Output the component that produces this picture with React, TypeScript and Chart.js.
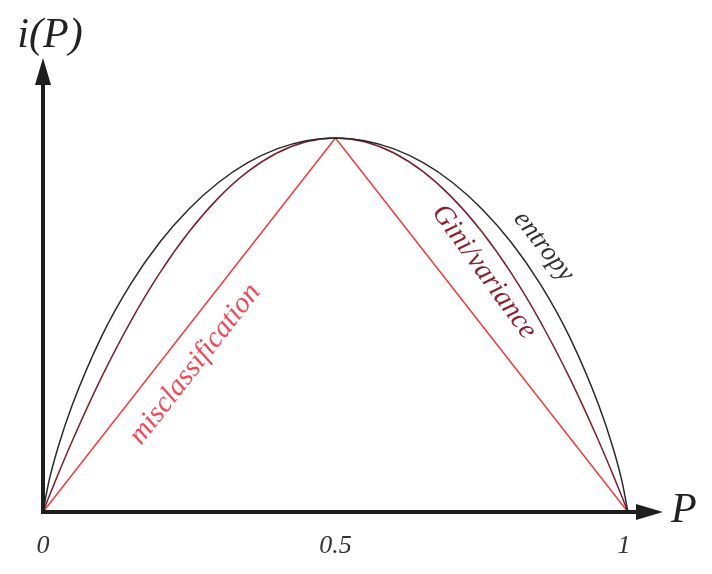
import React, { useEffect, useRef } from "react";
import { Chart, registerables } from "chart.js";

Chart.register(...registerables);

const P_VALUES = [0, 0.01, 0.025, 0.05, 0.1, 0.15, 0.2, 0.25, 0.3, 0.35, 0.4, 0.45, 0.5, 0.55, 0.6, 0.65, 0.7, 0.75, 0.8, 0.85, 0.9, 0.95, 0.975, 0.99, 1];
const ENTROPY = [0, 0.081, 0.169, 0.286, 0.469, 0.61, 0.722, 0.811, 0.881, 0.934, 0.971, 0.993, 1, 0.993, 0.971, 0.934, 0.881, 0.811, 0.722, 0.61, 0.469, 0.286, 0.169, 0.081, 0];
const GINI = [0, 0.04, 0.098, 0.19, 0.36, 0.51, 0.64, 0.75, 0.84, 0.91, 0.96, 0.99, 1, 0.99, 0.96, 0.91, 0.84, 0.75, 0.64, 0.51, 0.36, 0.19, 0.098, 0.04, 0];
const MISCLASS_P = [0, 0.5, 1];
const MISCLASS = [0, 1, 0];
const TICK_VALUES = [0, 0.5, 1];
const TICK_LABELS = ["0", "0.5", "1"];
const X_LABEL = "P";
const Y_LABEL = "i(P)";
const CURVE_LABELS = ["misclassification", "Gini/variance", "entropy"];

const X_MAX = 1.06;
const Y_MAX = 1.214;

const SERIF = "'Liberation Serif', 'DejaVu Serif', serif";

const decorPlugin = {
  id: "decor",
  afterDatasetsDraw(chart: any) {
    const ctx = chart.ctx;
    const xs = chart.scales.x;
    const ys = chart.scales.y;
    const x0 = xs.getPixelForValue(0);
    const y0 = ys.getPixelForValue(0);
    const xEnd = xs.getPixelForValue(X_MAX);
    const yEnd = ys.getPixelForValue(Y_MAX);
    ctx.save();
    ctx.strokeStyle = "#1e1e1e";
    ctx.fillStyle = "#1e1e1e";
    ctx.lineWidth = 4;
    ctx.lineCap = "butt";
    // x axis
    ctx.beginPath();
    ctx.moveTo(x0 - 2, y0);
    ctx.lineTo(xEnd - 20, y0);
    ctx.stroke();
    ctx.beginPath();
    ctx.moveTo(xEnd, y0);
    ctx.lineTo(xEnd - 27, y0 - 8);
    ctx.lineTo(xEnd - 27, y0 + 8);
    ctx.closePath();
    ctx.fill();
    // y axis
    ctx.beginPath();
    ctx.moveTo(x0, y0 + 2);
    ctx.lineTo(x0, yEnd + 20);
    ctx.stroke();
    ctx.beginPath();
    ctx.moveTo(x0, yEnd);
    ctx.lineTo(x0 - 8, yEnd + 27);
    ctx.lineTo(x0 + 8, yEnd + 27);
    ctx.closePath();
    ctx.fill();

    // tick labels
    ctx.fillStyle = "#333";
    ctx.font = `italic 26px ${SERIF}`;
    ctx.textAlign = "center";
    ctx.textBaseline = "middle";
    TICK_VALUES.forEach((v, i) => {
      ctx.fillText(TICK_LABELS[i], xs.getPixelForValue(v) - (i === 2 ? 4 : 0), y0 + 34);
    });

    // axis titles
    ctx.fillStyle = "#222";
    ctx.font = `italic 42px ${SERIF}`;
    ctx.textAlign = "left";
    ctx.fillText(X_LABEL, xEnd + 8, y0 - 1);
    ctx.textAlign = "center";
    ctx.font = `italic 42px ${SERIF}`;
    ctx.fillText(Y_LABEL, x0 + 7, yEnd - 22);

    // curve labels
    const drawRot = (text: string, px: number, py: number, angDeg: number, color: string, size: number) => {
      ctx.save();
      ctx.translate(xs.getPixelForValue(px), ys.getPixelForValue(py));
      ctx.rotate((angDeg * Math.PI) / 180);
      ctx.fillStyle = color;
      ctx.font = `italic ${size}px ${SERIF}`;
      ctx.textAlign = "center";
      ctx.textBaseline = "middle";
      ctx.fillText(text, 0, 0);
      ctx.restore();
    };
    drawRot(CURVE_LABELS[0], 0.26, 0.395, -52, "#f04a5a", 29);
    drawRot(CURVE_LABELS[1], 0.754, 0.642, 54, "#8a2233", 28.5);
    drawRot(CURVE_LABELS[2], 0.856, 0.71, 52, "#333", 27);
    ctx.restore();
  },
};

export default function App() {
  const canvasRef = useRef<HTMLCanvasElement | null>(null);

  useEffect(() => {
    document.body.style.margin = "0";
    const canvas = canvasRef.current;
    if (!canvas) return;
    const chart = new Chart(canvas, {
      type: "line",
      data: {
        datasets: [
          {
            label: "entropy",
            data: P_VALUES.map((p, i) => ({ x: p, y: ENTROPY[i] })),
            borderColor: "#2a2a2a",
            borderWidth: 1.5,
            pointRadius: 0,
            cubicInterpolationMode: "monotone",
          },
          {
            label: "Gini/variance",
            data: P_VALUES.map((p, i) => ({ x: p, y: GINI[i] })),
            borderColor: "#7a2030",
            borderWidth: 1.5,
            pointRadius: 0,
            cubicInterpolationMode: "monotone",
          },
          {
            label: "misclassification",
            data: MISCLASS_P.map((p, i) => ({ x: p, y: MISCLASS[i] })),
            borderColor: "#f03c3c",
            borderWidth: 1.5,
            pointRadius: 0,
            tension: 0,
          },
        ],
      },
      options: {
        animation: false,
        responsive: false,
        maintainAspectRatio: false,
        layout: { padding: { left: 43, right: 49, top: 58, bottom: 62 } },
        plugins: { legend: { display: false }, tooltip: { enabled: false } },
        scales: {
          x: { type: "linear", min: 0, max: X_MAX, display: false },
          y: { type: "linear", min: 0, max: Y_MAX, display: false },
        },
      },
      plugins: [decorPlugin],
    } as any);
    return () => chart.destroy();
  }, []);

  return (
    <div style={{ width: 712, height: 574, background: "#fff" }}>
      <canvas ref={canvasRef} width={712} height={574} />
    </div>
  );
}
